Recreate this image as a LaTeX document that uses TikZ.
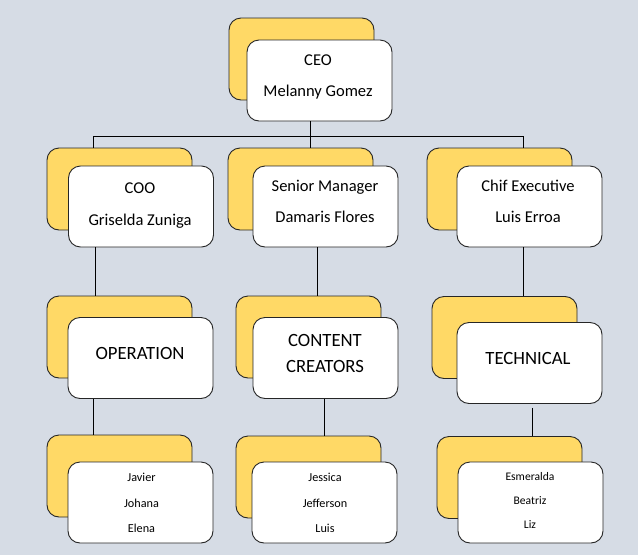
\documentclass[tikz,border=0pt]{standalone}
\usepackage{fontspec}
\setmainfont{Carlito}
\definecolor{bgc}{HTML}{D6DCE5}
\definecolor{yel}{HTML}{FFD966}
\definecolor{edge}{HTML}{262626}
\tikzset{
  backbox/.style={draw=edge, line width=0.9pt, fill=yel, rounded corners=12pt, inner sep=0pt, minimum width=145pt, minimum height=82pt},
  frontbox/.style={draw=edge, line width=0.9pt, fill=white, rounded corners=12pt, inner sep=0pt, minimum width=145pt, minimum height=81pt},
  conn/.style={draw=black, line width=1pt},
  big/.style={anchor=base, inner sep=0pt, font=\fontsize{16.5}{20}\selectfont},
  dept/.style={anchor=base, inner sep=0pt, font=\fontsize{18.7}{22}\selectfont},
  small/.style={anchor=base, inner sep=0pt, font=\fontsize{12.2}{14}\selectfont},
  smaller/.style={anchor=base, inner sep=0pt, font=\fontsize{11.6}{14}\selectfont}
}
\begin{document}
\begin{tikzpicture}[x=1pt, y=-1pt]
\fill[bgc] (0,0) rectangle (638,555);
\useasboundingbox (0,0) rectangle (638,555);
% connectors first (behind boxes)
\coordinate (busL) at (93,136);
\coordinate (busM) at (310,136);
\coordinate (busR) at (523,136);
% boxes
\node[backbox] (ceoY) at (301.5,59) {};
\node[frontbox] (ceoW) at (319.5,80.5) {};
\node[backbox] (cooY) at (119.5,189) {};
\node[frontbox] (cooW) at (141,206.5) {};
\node[backbox] (smY) at (300.5,189) {};
\node[frontbox] (smW) at (325.5,206.5) {};
\node[backbox] (ceY) at (499.5,189) {};
\node[frontbox] (ceW) at (529.5,206.5) {};
\node[backbox] (opY) at (119.5,337) {};
\node[frontbox] (opW) at (140.5,358) {};
\node[backbox] (ccY) at (308.5,337) {};
\node[frontbox] (ccW) at (325.5,358) {};
\node[backbox] (teY) at (504.5,337.5) {};
\node[frontbox] (teW) at (529.5,363) {};
\node[backbox] (l1Y) at (119.5,476) {};
\node[frontbox] (l1W) at (140.5,502.5) {};
\node[backbox] (l2Y) at (308.5,477) {};
\node[frontbox] (l2W) at (324.5,502.5) {};
\node[backbox] (l3Y) at (509.5,477.5) {};
\node[frontbox] (l3W) at (530.5,502.5) {};
% connectors
\draw[conn] (ceoW.south -| busM) -- (busM);
\draw[conn] (busL) -- (busR);
\draw[conn] (busL) -- (cooY.north -| busL);
\draw[conn] (busM) -- (smY.north -| busM);
\draw[conn] (busR) -- (ceY.north -| busR);
\draw[conn] (cooW.south -| 95,0) -- (opY.north -| 95,0);
\draw[conn] (smW.south -| 317,0) -- (ccY.north -| 317,0);
\draw[conn] (ceW.south -| 523,0) -- (teY.north -| 523,0);
\draw[conn] (opW.south -| 93,0) -- (l1Y.north -| 93,0);
\draw[conn] (ccW.south -| 324,0) -- (l2Y.north -| 324,0);
\draw[conn] ([yshift=-4pt]teW.south -| 532,0) -- (l3Y.north -| 532,0);
% texts
\node[big] (t1) at (318,65) {CEO};
\node[big] (t2) at (318,96) {Melanny Gomez};
\node[big] (t3) at (140,193) {COO};
\node[big] (t4) at (140,225) {Griselda Zuniga};
\node[big] (t5) at (325,191) {Senior Manager};
\node[big] (t6) at (325,222) {Damaris Flores};
\node[big] (t7) at (528,191) {Chif Executive};
\node[big] (t8) at (528,222) {Luis Erroa};
\node[dept] (t9) at (140,359) {OPERATION};
\node[dept] (t10) at (325,346) {CONTENT};
\node[dept] (t11) at (325,372) {CREATORS};
\node[dept] (t12) at (528,364) {TECHNICAL};
\node[small] (t13) at (141.5,481) {Javier};
\node[small] (t14) at (141.5,507) {Johana};
\node[small] (t15) at (141.5,532) {Elena};
\node[small] (t16) at (325,481) {Jessica};
\node[small] (t17) at (325,507) {Jefferson};
\node[small] (t18) at (325,532) {Luis};
\node[smaller] (t19) at (530,480) {Esmeralda};
\node[smaller] (t20) at (530,504) {Beatriz};
\node[smaller] (t21) at (530,528) {Liz};
\end{tikzpicture}
\end{document}
